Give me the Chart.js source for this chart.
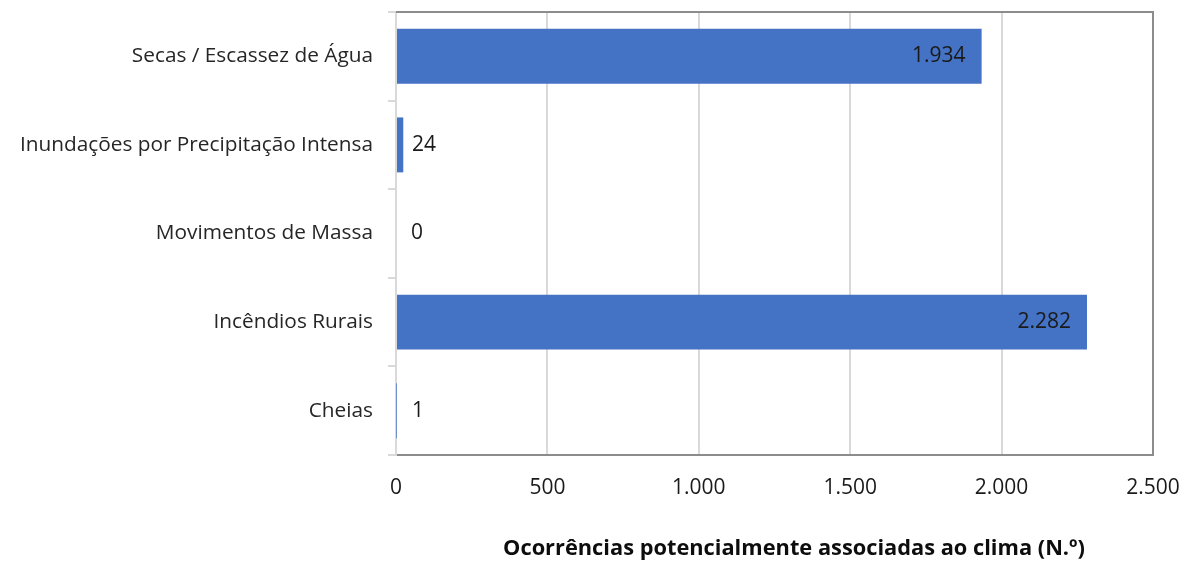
<!DOCTYPE html>
<html lang="pt">
<head>
<meta charset="utf-8">
<title>Ocorrências potencialmente associadas ao clima</title>
<script src="https://cdn.jsdelivr.net/npm/chart.js@4/dist/chart.umd.min.js"></script>
<style>
  html, body { margin: 0; padding: 0; background: #ffffff; }
  #wrap { width: 1184px; height: 561px; }
</style>
</head>
<body>
<div id="wrap"><canvas id="grafico" width="1184" height="561"></canvas></div>
<script>
  // --- dados ---
  const categorias = [
    'Secas / Escassez de Água',
    'Inundações por Precipitação Intensa',
    'Movimentos de Massa',
    'Incêndios Rurais',
    'Cheias'
  ];
  const ocorrencias = [1934, 24, 0, 2282, 1];
  const eixoMin = 0;
  const eixoMax = 2500;
  const eixoPasso = 500;
  const tituloEixo = 'Ocorrências potencialmente associadas ao clima (N.º)';

  const FONTE = "'Open Sans', 'Noto Sans', sans-serif";

  // separador de milhares com ponto (1.934)
  function formatarNumero(v) {
    return String(Math.round(v)).replace(/\B(?=(\d{3})+(?!\d))/g, '.');
  }

  /* rótulos de dados: dentro da barra no fim se couber, senão fora */
  const rotulosPlugin = {
    id: 'rotulos',
    afterDatasetsDraw(chart) {
      const ctx = chart.ctx;
      const meta = chart.getDatasetMeta(0);
      ctx.save();
      ctx.font = '21px ' + FONTE;
      ctx.fillStyle = '#1a1a1a';
      ctx.textBaseline = 'middle';
      meta.data.forEach((bar, i) => {
        const txt = formatarNumero(ocorrencias[i]);
        const largura = bar.x - bar.base;
        const w = ctx.measureText(txt).width;
        if (largura > w + 30) {
          ctx.textAlign = 'right';
          ctx.fillText(txt, bar.x - 16, bar.y);
        } else {
          ctx.textAlign = 'left';
          ctx.fillText(txt, Math.max(bar.x + 8, bar.base + 15), bar.y);
        }
      });
      ctx.restore();
    }
  };

  /* moldura do gráfico + título do eixo */
  const molduraPlugin = {
    id: 'moldura',
    afterDraw(chart) {
      const { ctx, chartArea: a } = chart;
      ctx.save();
      ctx.strokeStyle = '#8c8c8c';
      ctx.lineWidth = 2;
      ctx.beginPath();
      ctx.moveTo(a.left, a.top);
      ctx.lineTo(a.right, a.top);
      ctx.lineTo(a.right, a.bottom);
      ctx.stroke();

      ctx.font = 'bold 21.8px ' + FONTE;
      ctx.fillStyle = '#0d0d0d';
      ctx.textAlign = 'center';
      ctx.textBaseline = 'middle';
      ctx.fillText(tituloEixo, 794, 549);
      ctx.restore();
    }
  };

  new Chart(document.getElementById('grafico'), {
    type: 'bar',
    data: {
      labels: categorias,
      datasets: [{
        data: ocorrencias,
        backgroundColor: '#4472C4',
        borderWidth: 0,
        barPercentage: 0.62,
        categoryPercentage: 1
      }]
    },
    options: {
      indexAxis: 'y',
      responsive: false,
      animation: false,
      layout: { padding: { top: 12, right: 31, left: 0, bottom: 0 } },
      plugins: {
        legend: { display: false },
        tooltip: { enabled: false }
      },
      scales: {
        x: {
          min: eixoMin,
          max: eixoMax,
          afterFit(s) {
            s.height = 106;
            s.paddingLeft = 0;
            s.paddingRight = 0;
          },
          ticks: {
            stepSize: eixoPasso,
            padding: 20,
            color: '#1a1a1a',
            font: { family: FONTE, size: 21 },
            callback: v => formatarNumero(v)
          },
          grid: {
            color: '#d9d9d9',
            lineWidth: 2,
            drawTicks: false
          },
          border: { display: true, color: '#8c8c8c', width: 2 }
        },
        y: {
          afterFit(s) {
            s.width = 396;
            s.paddingTop = 0;
            s.paddingBottom = 0;
          },
          ticks: {
            padding: 15,
            color: '#262626',
            font: { family: FONTE, size: 20.8 }
          },
          grid: {
            offset: true,
            drawOnChartArea: false,
            drawTicks: true,
            tickLength: 8,
            color: '#d9d9d9',
            lineWidth: 2
          },
          border: { display: true, color: '#d9d9d9', width: 2 }
        }
      }
    },
    plugins: [rotulosPlugin, molduraPlugin]
  });
</script>
</body>
</html>
